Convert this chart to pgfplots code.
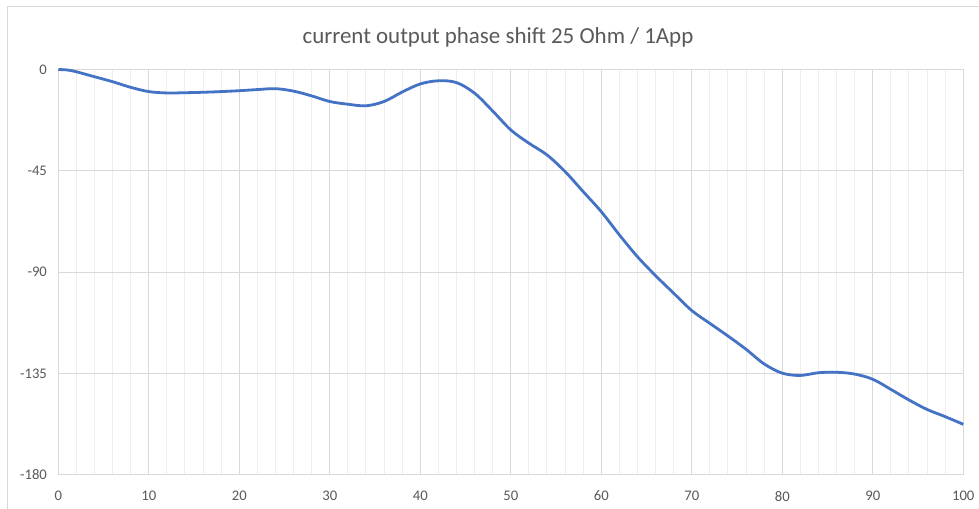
\documentclass[border=0pt]{standalone}
\usepackage{pgfplots}
\pgfplotsset{compat=1.18}
\usepackage{fontspec}
\setmainfont{Carlito}
\definecolor{txtgray}{HTML}{595959}
\definecolor{majgrid}{HTML}{D9D9D9}
\definecolor{mingrid}{HTML}{EFEFEF}
\definecolor{linecol}{HTML}{4472C4}
\begin{document}
\begin{tikzpicture}
\useasboundingbox (0,0) rectangle (734.25pt,381.75pt);
\fill[white] (0,0) rectangle (734.25pt,381.75pt);
\draw[majgrid, line width=0.75pt] (5.25pt,0) -- (5.25pt,376.5pt) -- (734.25pt,376.5pt);
\node[font=\fontsize{17.2}{19}\selectfont, text=txtgray] at (373.5pt,353.5pt) {current output phase shift 25 Ohm / 1App};
\begin{axis}[
  at={(43.7pt,25.5pt)}, anchor=south west,
  scale only axis, width=678.75pt, height=304.1pt,
  xmin=0, xmax=100, ymin=-180, ymax=0,
  xtick={0,10,...,100}, ytick={-180,-135,-90,-45,0},
  minor x tick num=4,
  grid=both,
  major grid style={majgrid, line width=0.75pt},
  minor grid style={mingrid, line width=0.75pt},
  axis line style={majgrid, line width=0.75pt},
  major tick length=0pt, minor tick length=0pt,
  tick label style={font=\fontsize{11}{13}\selectfont, text=txtgray},
  /pgf/number format/assume math mode=true,
  yticklabel style={xshift=-5pt},
  xticklabel style={yshift=-8.5pt},
  clip=false,
]
\addplot[linecol, line width=2.1pt, smooth, tension=0.55] coordinates {
(0,0) (1,-0.2) (2,-1.0) (4,-3.2) (6,-5.4) (8,-7.9) (10,-9.8) (12,-10.4) (14,-10.3) (16,-10.1) (18,-9.8) (20,-9.4) (22,-8.9) (24,-8.5) (26,-9.6) (28,-11.7) (30,-14.2) (32,-15.4) (34,-16.1) (36,-14.2) (38,-10.0) (40,-6.4) (42,-5.0) (44,-5.8) (46,-10.5) (48,-18.4) (50,-26.8) (52,-32.7) (54,-37.9) (56,-45.3) (58,-54.2) (60,-63.1) (62,-73.4) (64,-83.1) (66,-91.5) (68,-99.3) (70,-107.0) (72,-112.7) (74,-118.3) (76,-124.2) (78,-130.7) (80,-134.8) (82,-135.8) (84,-134.6) (86,-134.4) (88,-135.2) (90,-137.5) (92,-142.0) (94,-146.7) (96,-150.9) (98,-154.1) (100,-157.5)
};
\end{axis}
\end{tikzpicture}
\end{document}
